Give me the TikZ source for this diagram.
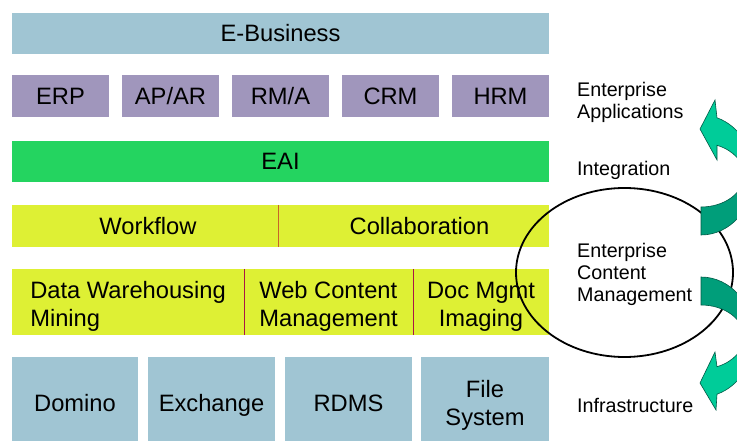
\documentclass[tikz,border=0pt]{standalone}
\usepackage{fontspec}
\setmainfont{Liberation Sans}
\definecolor{ebblue}{RGB}{160, 197, 211}
\definecolor{apppurple}{RGB}{160, 150, 188}
\definecolor{eaigreen}{RGB}{36, 212, 96}
\definecolor{ecmyellow}{RGB}{222, 240, 52}
\definecolor{divorange}{RGB}{200, 100, 40}
\definecolor{divred}{RGB}{170, 20, 70}
\definecolor{loopfront}{RGB}{0, 204, 153}
\definecolor{loopback}{RGB}{0, 158, 122}
\definecolor{loopedge}{RGB}{0, 90, 70}
\newcommand{\boxfont}{\fontsize{23.7}{28}\selectfont}
\newcommand{\sidefont}{\fontsize{19.7}{21.5}\selectfont}
\usetikzlibrary{shapes.geometric}

\begin{document}
\begin{tikzpicture}[x=1pt, y=-1pt,
  bar/.style={inner sep=0pt, outer sep=0pt, text=black, font=\boxfont, text height=17pt, text depth=0pt},
  twoline/.style={text height=53pt, text depth=5pt},
  divline/.style={line width=0.9pt},
  sidelabel/.style={anchor=west, align=left, inner sep=0pt, font=\sidefont, text depth=0pt},
  loophead/.style={fill=loopfront, draw=loopedge, line width=0.6pt},
  looptail/.style={fill=loopback, draw=loopedge, line width=0.6pt}]
  \useasboundingbox (0,0) rectangle (737,441);
  \clip (0,0) rectangle (737,441);

  % layers
  \node[bar, fill=ebblue, minimum width=537pt, minimum height=41pt] (ebiz) at (280.5,33.5) {E-Business};
  \foreach \name/\lbl [count=\i from 0] in {erp/ERP, apar/{AP/AR}, rma/{RM/A}, crm/CRM, hrm/HRM}
    \node[bar, fill=apppurple, minimum width=97pt, minimum height=42pt] (\name) at (60.5+110*\i,96) {\lbl};
  \node[bar, fill=eaigreen, minimum width=537pt, minimum height=41pt] (eai) at (280.5,161.5) {EAI};
  \node[bar, fill=ecmyellow, minimum width=266pt, minimum height=42pt] (workflow) at (145,226) {\hspace{6pt}Workflow};
  \node[bar, fill=ecmyellow, minimum width=271pt, minimum height=42pt] (collab) at (413.5,226) {\hspace{12pt}Collaboration};
  \node[bar, twoline, fill=ecmyellow, minimum width=232pt, minimum height=66pt, align=left] (dwh) at (128,302) {Data Warehousing\\Mining};
  \node[bar, twoline, fill=ecmyellow, minimum width=169pt, minimum height=66pt, align=left] (wcm) at (328.5,302) {Web Content\\Management};
  \node[bar, twoline, fill=ecmyellow, minimum width=136pt, minimum height=66pt, align=center] (docm) at (481,302) {Doc Mgmt\\Imaging};
  \foreach \name/\cx/\w/\lbl in {domino/75/126/Domino, exch/211.5/127/Exchange, rdms/348.5/127/RDMS}
    \node[bar, fill=ebblue, minimum width=\w pt, minimum height=92pt] (\name) at (\cx,403) {\lbl};
  \node[bar, twoline, text height=49pt, fill=ebblue, minimum width=128pt, minimum height=92pt, align=center] (fsys) at (485,403) {File\\System};

  \draw[divline, divorange] (workflow.north east) -- (workflow.south east);
  \draw[divline, divred] (dwh.north east) -- (dwh.south east);
  \draw[divline, divred] (wcm.north east) -- (wcm.south east);

  % side labels
  \node[sidelabel] (apps) at (577,100.5) {Enterprise\\Applications};
  \node[sidelabel] (integ) at (577,168) {Integration};
  \node[sidelabel, font=\fontsize{19.7}{22}\selectfont] (ecm) at (577,272) {Enterprise\\Content\\Management};
  \node[sidelabel] (infra) at (577,405) {Infrastructure};

  \node[draw, ellipse, line width=1.8pt, inner sep=0pt, minimum width=217pt, minimum height=169pt] (ecmring) at (624.5,272.5) {};

  % curved arrows at the edge
  \fill[looptail] (754,175) arc[start angle=0, end angle=90, x radius=53, y radius=60]
    -- (701,207) arc[start angle=90, end angle=0, x radius=43, y radius=32] -- cycle;
  \fill[loophead] (717,117.8) arc[start angle=-72.4, end angle=0, x radius=53, y radius=60]
    -- (744,175) arc[start angle=0, end angle=-68.15, x radius=43, y radius=32]
    -- (717,160) -- (700,129) -- (715,100) -- cycle;
  \fill[looptail] (754,337) arc[start angle=0, end angle=-90, x radius=53, y radius=60]
    -- (701,305) arc[start angle=-90, end angle=0, x radius=43, y radius=32] -- cycle;
  \fill[loophead] (754,337) arc[start angle=0, end angle=72.4, x radius=53, y radius=60]
    -- (716,410) -- (700,383) -- (715,352)
    -- (717,366.7) arc[start angle=68.15, end angle=0, x radius=43, y radius=32] -- cycle;
\end{tikzpicture}
\end{document}
